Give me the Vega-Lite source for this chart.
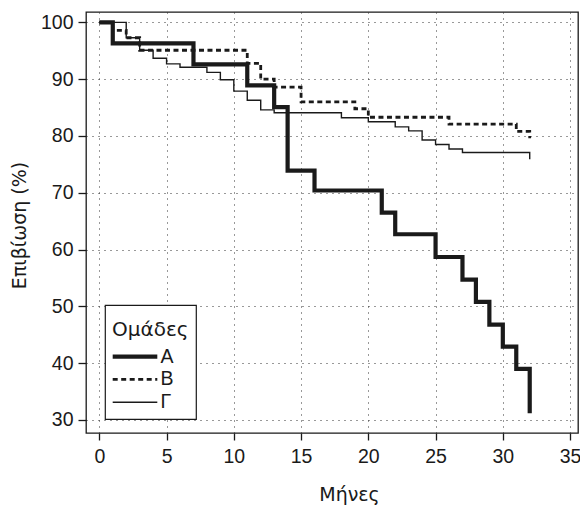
{
  "$schema": "https://vega.github.io/schema/vega-lite/v6.json",
  "width": 492,
  "height": 421,
  "autosize": {"type": "none"},
  "padding": {"left": 86, "top": 12, "right": 2, "bottom": 74},
  "background": "white",
  "config": {
    "view": {"stroke": "#1a1a1a", "strokeWidth": 1.3},
    "legend": {"strokeWidth": 1.2}
  },
  "data": {
    "values": [
      {"g": "Γ", "t": 0, "s": 100},
      {"g": "Γ", "t": 2, "s": 97.3},
      {"g": "Γ", "t": 3, "s": 95.1},
      {"g": "Γ", "t": 4, "s": 93.7},
      {"g": "Γ", "t": 5, "s": 92.7},
      {"g": "Γ", "t": 6, "s": 92.1},
      {"g": "Γ", "t": 8, "s": 91.2},
      {"g": "Γ", "t": 9, "s": 89.9},
      {"g": "Γ", "t": 10, "s": 87.9},
      {"g": "Γ", "t": 11, "s": 86.3},
      {"g": "Γ", "t": 12, "s": 84.6},
      {"g": "Γ", "t": 13, "s": 84.1},
      {"g": "Γ", "t": 18, "s": 83.2},
      {"g": "Γ", "t": 20, "s": 82.5},
      {"g": "Γ", "t": 22, "s": 81.6},
      {"g": "Γ", "t": 23, "s": 80.9},
      {"g": "Γ", "t": 24, "s": 79.3},
      {"g": "Γ", "t": 25, "s": 78.5},
      {"g": "Γ", "t": 26, "s": 77.7},
      {"g": "Γ", "t": 27, "s": 77.1},
      {"g": "Γ", "t": 32, "s": 75.9},
      {"g": "Β", "t": 0, "s": 100},
      {"g": "Β", "t": 1, "s": 98.6},
      {"g": "Β", "t": 2, "s": 97.3},
      {"g": "Β", "t": 3, "s": 95.1},
      {"g": "Β", "t": 11, "s": 92.8},
      {"g": "Β", "t": 12, "s": 90.0},
      {"g": "Β", "t": 13, "s": 88.6},
      {"g": "Β", "t": 15, "s": 86.0},
      {"g": "Β", "t": 19, "s": 84.8},
      {"g": "Β", "t": 20, "s": 83.3},
      {"g": "Β", "t": 26, "s": 82.1},
      {"g": "Β", "t": 31, "s": 80.8},
      {"g": "Β", "t": 32, "s": 79.6},
      {"g": "Α", "t": 0, "s": 100},
      {"g": "Α", "t": 1, "s": 96.3},
      {"g": "Α", "t": 7, "s": 92.6},
      {"g": "Α", "t": 11, "s": 88.9},
      {"g": "Α", "t": 13, "s": 85.1},
      {"g": "Α", "t": 14, "s": 73.9},
      {"g": "Α", "t": 16, "s": 70.4},
      {"g": "Α", "t": 21, "s": 66.5},
      {"g": "Α", "t": 22, "s": 62.7},
      {"g": "Α", "t": 25, "s": 58.7},
      {"g": "Α", "t": 27, "s": 54.7},
      {"g": "Α", "t": 28, "s": 50.8},
      {"g": "Α", "t": 29, "s": 46.8},
      {"g": "Α", "t": 30, "s": 42.9},
      {"g": "Α", "t": 31, "s": 39.0},
      {"g": "Α", "t": 32, "s": 31.2}
    ]
  },
  "mark": {"type": "line", "interpolate": "step-after", "color": "#1a1a1a", "strokeCap": "butt", "strokeJoin": "miter"},
  "encoding": {
    "x": {
      "field": "t", "type": "quantitative",
      "scale": {"domain": [-0.99, 35.59], "nice": false, "zero": false},
      "axis": {
        "values": [0, 5, 10, 15, 20, 25, 30, 35],
        "title": "Μήνες",
        "grid": true, "gridDash": [1, 5], "gridColor": "#333333", "gridWidth": 1,
        "domain": false,
        "ticks": true, "tickSize": 7, "tickColor": "#1a1a1a", "tickWidth": 1.3,
        "labelFont": "Liberation Sans", "labelFontSize": 19.5, "labelColor": "#1a1a1a",
        "labelPadding": 7, "labelFlush": false, "labelOverlap": false,
        "titleFont": "DejaVu Sans", "titleFontSize": 19, "titleFontWeight": "normal", "titleColor": "#1a1a1a",
        "titleX": 263, "titleY": 67, "titleBaseline": "alphabetic", "titleAlign": "center"
      }
    },
    "y": {
      "field": "s", "type": "quantitative",
      "scale": {"domain": [27.71, 101.83], "nice": false, "zero": false},
      "axis": {
        "values": [30, 40, 50, 60, 70, 80, 90, 100],
        "title": "Επιβίωση (%)",
        "grid": true, "gridDash": [1, 5], "gridColor": "#333333", "gridWidth": 1,
        "domain": false,
        "ticks": true, "tickSize": 8, "tickColor": "#1a1a1a", "tickWidth": 1.3,
        "labelFont": "Liberation Sans", "labelFontSize": 19.5, "labelColor": "#1a1a1a",
        "labelPadding": 5, "labelOverlap": false,
        "titleFont": "DejaVu Sans", "titleFontSize": 19, "titleFontWeight": "normal", "titleColor": "#1a1a1a",
        "titleX": -61, "titleY": 213, "titleBaseline": "alphabetic", "titleAlign": "center", "titleAngle": 270
      }
    },
    "strokeWidth": {
      "field": "g", "type": "nominal",
      "scale": {"domain": ["Α", "Β", "Γ"], "range": [4.2, 1.4, 1.5]},
      "legend": {
        "title": "Ομάδες", "orient": "none", "legendX": 19, "legendY": 293, "direction": "vertical",
        "strokeColor": "#1a1a1a", "fillColor": "white", "padding": 7,
        "titleFont": "DejaVu Sans", "titleFontSize": 20, "titleFontWeight": "normal", "titleColor": "#1a1a1a",
        "titleBaseline": "line-top", "titleLineHeight": 36.5, "titlePadding": 14.9,
        "labelFont": "Liberation Sans", "labelFontSize": 19.5, "labelColor": "#1a1a1a", "labelOffset": 1,
        "symbolType": "stroke", "symbolSize": 1990, "symbolStrokeColor": "#1a1a1a", "symbolOffset": -1.5,
        "clipHeight": 19.5, "rowPadding": 1.8
      }
    },
    "strokeDash": {
      "field": "g", "type": "nominal",
      "scale": {"domain": ["Α", "Β", "Γ"], "range": [[1, 0], [5, 3.5], [1, 0]]},
      "legend": {
        "title": "Ομάδες", "orient": "none", "legendX": 19, "legendY": 293, "direction": "vertical",
        "strokeColor": "#1a1a1a", "fillColor": "white", "padding": 7,
        "titleFont": "DejaVu Sans", "titleFontSize": 20, "titleFontWeight": "normal", "titleColor": "#1a1a1a",
        "titleBaseline": "line-top", "titleLineHeight": 36.5, "titlePadding": 14.9,
        "labelFont": "Liberation Sans", "labelFontSize": 19.5, "labelColor": "#1a1a1a", "labelOffset": 1,
        "symbolType": "stroke", "symbolSize": 1990, "symbolStrokeColor": "#1a1a1a", "symbolOffset": -1.5,
        "clipHeight": 19.5, "rowPadding": 1.8
      }
    }
  }
}
